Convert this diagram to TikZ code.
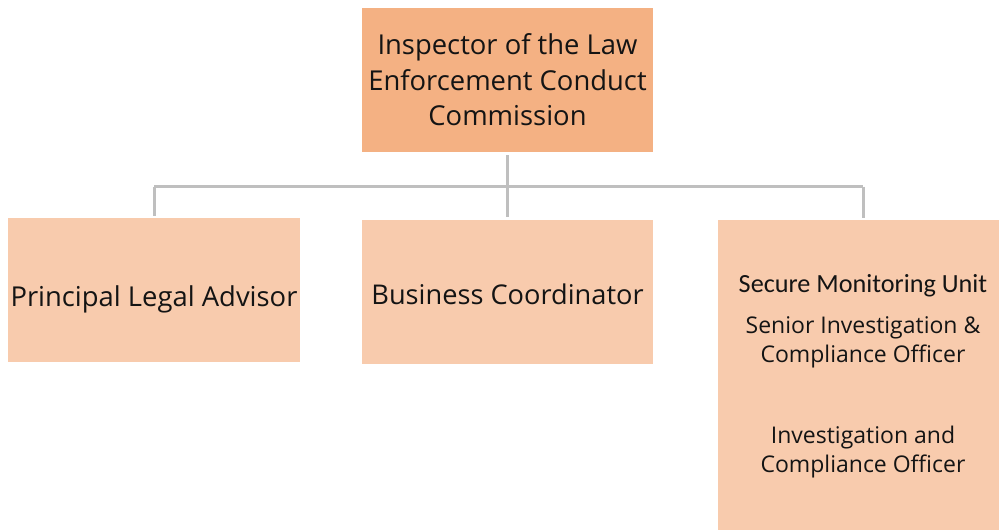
\documentclass[tikz,border=0pt]{standalone}
\usepackage{fontspec}
\setmainfont{Open Sans}
\newfontfamily\calfont{Carlito}
\definecolor{topfill}{HTML}{F4B183}
\definecolor{subfill}{HTML}{F8CBAD}
\definecolor{linkgray}{HTML}{BFBFBF}
\definecolor{txt}{HTML}{141414}
\begin{document}
\begin{tikzpicture}[x=1pt,y=-1pt,
  box/.style={draw=none,minimum width=#1,inner sep=0pt,align=center,text=txt},
  link/.style={draw=linkgray,line width=3pt}]
\useasboundingbox (0,0) rectangle (999,530);
% boxes
\fill[topfill] (362,8) rectangle (653,152);
\fill[subfill] (8,218) rectangle (300,362);
\fill[subfill] (362,220) rectangle (653,364);
\fill[subfill] (718,220) rectangle (999,530);
\node[box=291pt,font=\fontsize{27.4}{35.5}\selectfont] (top) at (507.5,80) {Inspector of the Law\\Enforcement Conduct\\Commission};
\node[box=292pt,font=\fontsize{27.4}{30}\selectfont] (pla) at (154,299) {Principal Legal Advisor};
\node[box=291pt,font=\fontsize{27.2}{30}\selectfont] (bc) at (507.5,294) {Business Coordinator};
\node[box=281pt,font=\calfont\fontsize{26.2}{28}\selectfont] (smu) at (863,286) {Secure Monitoring Unit};
\node[box=281pt,font=\fontsize{23}{29}\selectfont] (sico) at (863,342) {Senior Investigation \&\\Compliance Officer};
\node[box=281pt,font=\fontsize{23}{29}\selectfont] (ico) at (863,452) {Investigation and\\Compliance Officer};
% connectors
\coordinate (t) at (507,155);
\coordinate (j) at (507,186.5);
\coordinate (l) at (154,186.5);
\coordinate (r) at (863,186.5);
\coordinate (lb) at (154,216);
\coordinate (mb) at (507,217);
\coordinate (rb) at (863,218);
\draw[link] (t) -- (mb);
\draw[link] (l) -- (r);
\draw[link] (l) -- (lb);
\draw[link] (r) -- (rb);
\end{tikzpicture}
\end{document}
